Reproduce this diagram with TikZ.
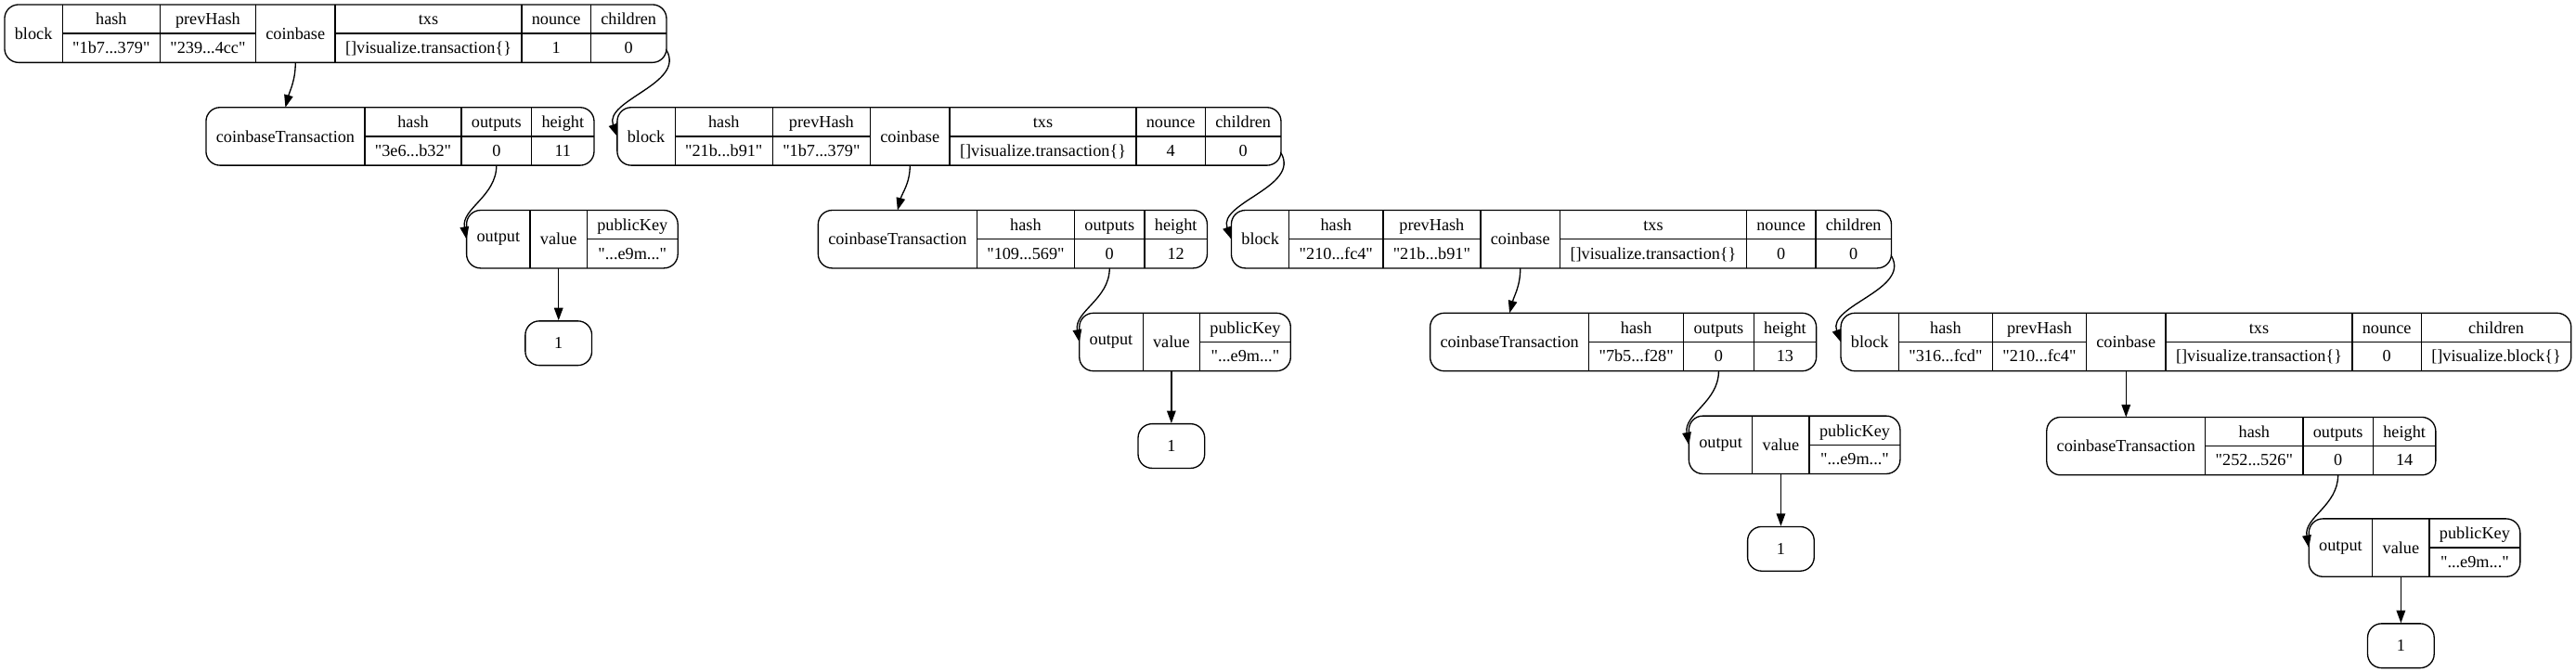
\documentclass[tikz,border=0pt]{standalone}
\usepackage{fontspec}
\setmainfont{Liberation Serif}[Ligatures=TeXOff]
\usetikzlibrary{positioning,arrows.meta}

\tikzset{
  fld/.style={inner xsep=5.8pt, inner ysep=0pt, minimum height=34.5pt, align=center},
  frame/.style={rounded corners=8.5pt},
  link/.style={-{Triangle[length=7.6pt,width=5.4pt]}},
  amount/.style={draw, rounded corners=8.5pt, minimum width=40.5pt, minimum height=27pt, inner sep=0pt},
}

% two stacked rows of a record field
\newcommand{\tworow}[2]{\strut#1\\\strut#2}

% block record: name, placement, hash, prevHash, nounce, children
\newcommand{\blockrec}[6]{
  \node[fld, #2] (#1lbl) {block};
  \node[fld, right=0pt of #1lbl] (#1hash) {\tworow{hash}{"#3"}};
  \node[fld, right=0pt of #1hash] (#1prev) {\tworow{prevHash}{"#4"}};
  \node[fld, right=0pt of #1prev] (#1cb) {coinbase};
  \node[fld, right=0pt of #1cb] (#1txs) {\tworow{txs}{[]visualize.transaction\{\}}};
  \node[fld, right=0pt of #1txs] (#1nonce) {\tworow{nounce}{#5}};
  \node[fld, right=0pt of #1nonce] (#1ch) {\tworow{children}{#6}};
  \draw[frame] (#1lbl.north west) rectangle (#1ch.south east);
  \foreach \f in {hash,prev,cb,txs,nonce,ch} \draw (#1\f.north west) -- (#1\f.south west);
  \foreach \f in {hash,prev,txs,nonce,ch} \draw (#1\f.west) -- (#1\f.east);
}

% coinbase transaction record: name, placement, hash, height
\newcommand{\txrec}[4]{
  \node[fld, #2] (#1lbl) {coinbaseTransaction};
  \node[fld, right=0pt of #1lbl] (#1hash) {\tworow{hash}{"#3"}};
  \node[fld, right=0pt of #1hash] (#1out) {\tworow{outputs}{0}};
  \node[fld, right=0pt of #1out] (#1hgt) {\tworow{height}{#4}};
  \draw[frame] (#1lbl.north west) rectangle (#1hgt.south east);
  \foreach \f in {hash,out,hgt} \draw (#1\f.north west) -- (#1\f.south west);
  \foreach \f in {hash,out,hgt} \draw (#1\f.west) -- (#1\f.east);
}

% output record: name, placement
\newcommand{\outrec}[2]{
  \node[fld, #2] (#1lbl) {output};
  \node[fld, right=0pt of #1lbl] (#1val) {value};
  \node[fld, right=0pt of #1val] (#1key) {\tworow{publicKey}{"...e9m..."}};
  \draw[frame] (#1lbl.north west) rectangle (#1key.south east);
  \foreach \f in {val,key} \draw (#1\f.north west) -- (#1\f.south west);
  \draw (#1key.west) -- (#1key.east);
}

\begin{document}
\begin{tikzpicture}[x=1pt, y=1pt, line width=0.75pt, font=\fontsize{10.3}{17.25}\selectfont]
  \useasboundingbox (0,0) rectangle (1568,-409);

  % records
  \blockrec{blkA}{anchor=north west, at={(2.8,-2.8)}}{1b7...379}{239...4cc}{1}{0}
  \txrec{ctxA}{anchor=north west, at={(125.4,-65.4)}}{3e6...b32}{11}
  \blockrec{blkB}{anchor=north west, at={(375.7,-65.4)}}{21b...b91}{1b7...379}{4}{0}
  \outrec{outA}{anchor=north west, at={(284,-128)}}
  \txrec{ctxB}{anchor=north west, at={(498,-128)}}{109...569}{12}
  \blockrec{blkC}{anchor=north west, at={(749.5,-128)}}{210...fc4}{21b...b91}{0}{0}
  \outrec{outB}{anchor=north west, at={(657,-190.6)}}
  \txrec{ctxC}{anchor=north west, at={(870.5,-190.6)}}{7b5...f28}{13}
  \blockrec{blkD}{anchor=north west, at={(1120.5,-190.6)}}{316...fcd}{210...fc4}{0}{[]visualize.block\{\}}
  \outrec{outC}{anchor=north west, at={(1028,-253.2)}}
  \txrec{ctxD}{below=28.1pt of blkDcb}{252...526}{14}
  \outrec{outD}{anchor=north west, at={(1405.4,-315.8)}}

  \node[amount, below=31.8pt of outAval] (amtA) {1};
  \node[amount, below=31.8pt of outBval] (amtB) {1};
  \node[amount, below=31.8pt of outCval] (amtC) {1};
  \node[amount, below=28.2pt of outDval] (amtD) {1};

  % coinbase links
  \draw[link] (blkAcb.south) to[out=-90, in=75] (ctxAlbl.north);
  \draw[link] (blkBcb.south) to[out=-90, in=75] (ctxBlbl.north);
  \draw[link] (blkCcb.south) to[out=-90, in=75] (ctxClbl.north);
  \draw[link] (blkDcb.south) -- (ctxDlbl.north);

  % children links
  \draw[link] ([yshift=7.5pt]blkAch.south east) to[out=-60, in=110] (blkBlbl.west);
  \draw[link] ([yshift=7.5pt]blkBch.south east) to[out=-60, in=110] (blkClbl.west);
  \draw[link] ([yshift=7.5pt]blkCch.south east) to[out=-60, in=110] (blkDlbl.west);

  % outputs links
  \draw[link] (ctxAout.south) to[out=-90, in=100] (outAlbl.west);
  \draw[link] (ctxBout.south) to[out=-90, in=100] (outBlbl.west);
  \draw[link] (ctxCout.south) to[out=-90, in=100] (outClbl.west);
  \draw[link] (ctxDout.south) to[out=-90, in=100] (outDlbl.west);

  % value links
  \draw[link] (outAval.south) -- (amtA.north);
  \draw[link] (outBval.south) -- (amtB.north);
  \draw[link] (outCval.south) -- (amtC.north);
  \draw[link] (outDval.south) -- (amtD.north);
\end{tikzpicture}
\end{document}
